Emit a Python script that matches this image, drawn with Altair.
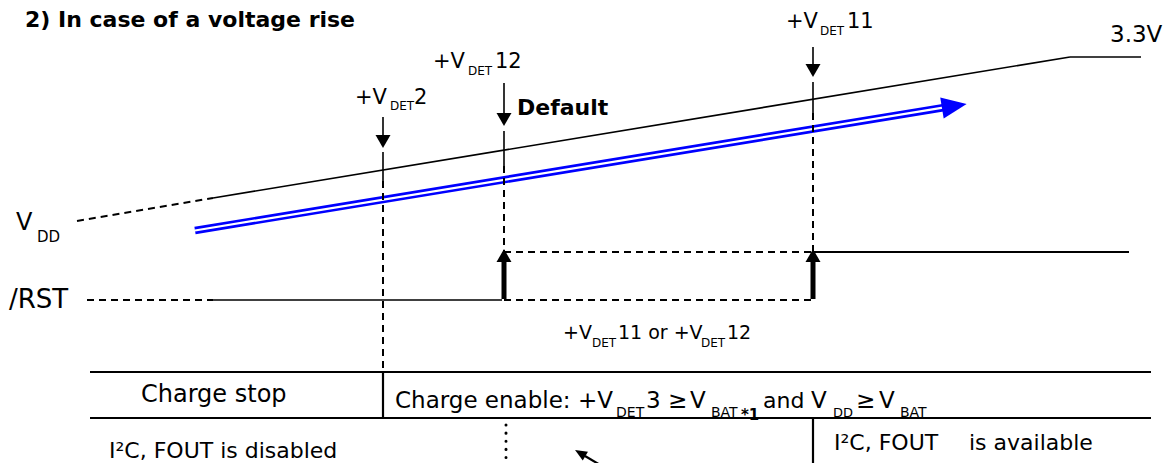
import altair as alt
import pandas as pd

# ---------------- data (diagram units; x = time position, y = level, counted downwards) ----------------
FONT = "DejaVu Sans"

# V_DD trace: dashed lead-in, rising ramp, flat at 3.3 V
vdd_dash = [(77, 221, 213, 198)]
vdd_solid = [(213, 198, 1070, 57), (1070, 57, 1141, 57)]

# /RST trace
rst_low_solid = [(213, 300, 502, 300)]
rst_low_dash = [(87, 300, 213, 300), (504, 300, 813, 300)]
rst_high_dash = [(504, 252, 813, 252)]
rst_high_solid = [(813, 252, 1129, 252)]

# detection thresholds: +VDET2, +VDET12, +VDET11
det_x = [383, 504, 813]
det_tick_top = [152, 131, 82]
det_tick_bot = [181, 166, 113]
det_dash_bot = [370, 251, 251]
det_shaft_top = [117, 83, 47]
det_shaft_bot = [136, 114, 65]
det_head_y = [141.5, 119.5, 70.5]

# /RST release arrows (thick)
rel_x = [504, 813]
rel_shaft = (299, 261)
rel_head_y = 255.5

# blue "voltage rise" double arrow
blue_start = (195, 230.5)
blue_end = (943, 107.7)
blue_head = (954.3, 106.0, 350.7)

# state table
table_rows = [(90, 372, 1151, 372), (90, 418, 1151, 418)]
table_dividers = [(383, 372, 383, 418), (813, 418, 813, 470)]
dotted_line = [(506, 425, 506, 470)]
pointer_shaft = [(585, 456, 607, 469)]
pointer_head = (580.2, 453.1, 210.6)

# text pieces: (text, x, baseline y, font size)
texts_normal = [
    ("+V", 355, 104, 21), ("DET", 390, 110, 12), ("2", 414, 104, 21),
    ("+V", 433, 68, 21), ("DET", 468, 75, 12), ("12", 495, 68, 21),
    ("+V", 786, 28, 21), ("DET", 820, 35, 12), ("11", 847, 28, 21),
    ("3.3V", 1110, 42, 23),
    ("V", 16, 230, 24), ("DD", 37, 242, 15),
    ("/RST", 9, 308, 26),
    ("+V", 563, 339, 19), ("DET", 592, 347, 12), ("11 or +V", 618, 339, 19),
    ("DET", 701, 347, 12), ("12", 727, 339, 19),
    ("Charge stop", 141, 402, 24),
    ("Charge enable:", 395, 408, 23), ("+V", 578, 408, 23), ("DET", 616, 417, 14),
    ("3", 646, 408, 23), ("≥", 668, 408, 23), ("V", 690, 408, 23), ("BAT", 711, 417, 14),
    ("and", 763, 408, 22), ("V", 811, 408, 23), ("DD", 833, 417, 13),
    ("≥", 856, 408, 23), ("V", 879, 408, 23), ("BAT", 900, 417, 14),
    ("I²C, FOUT is disabled", 109, 458, 22),
    ("I²C, FOUT", 834, 450, 22), ("is available", 969, 450, 22),
]
texts_bold = [
    ("2) In case of a voltage rise", 25, 27, 22),
    ("Default", 517, 115, 22),
    ("*1", 741, 420, 15),
]

PATH_NARROW = "M-1,-0.85L1,0L-1,0.85Z"
PATH_WIDE = "M-1,-1.15L1,0L-1,1.15Z"

# ---------------- build tables ----------------
W, H = 1155, 455
xs = alt.Scale(domain=[8, 8 + W], nice=False, zero=False)
ys = alt.Scale(domain=[8, 8 + H], nice=False, zero=False, reverse=True)


def segs(rows):
    return pd.DataFrame(rows, columns=["x", "y", "x2", "y2"])


def rules(rows, **mark):
    return alt.Chart(segs(rows)).mark_rule(**mark).encode(
        x=alt.X("x:Q", scale=xs, axis=None),
        y=alt.Y("y:Q", scale=ys, axis=None),
        x2="x2:Q",
        y2="y2:Q",
    )


thin_rows = vdd_solid + rst_low_solid
thin_rows += [(x, t, x, b) for x, t, b in zip(det_x, det_tick_top, det_tick_bot)]
thin_rows += [(x, t, x, b) for x, t, b in zip(det_x, det_shaft_top, det_shaft_bot)]
dash_rows = vdd_dash + rst_low_dash + rst_high_dash
dash_rows += [(x, t, x, b) for x, t, b in zip(det_x, det_tick_bot, det_dash_bot)]
med_rows = rst_high_solid + table_rows + table_dividers + pointer_shaft
thick_rows = [(x, rel_shaft[0], x, rel_shaft[1]) for x in rel_x]
blue_rows = [(blue_start[0], blue_start[1], blue_end[0], blue_end[1])]

heads = [
    dict(x=blue_head[0], y=blue_head[1], angle=blue_head[2], shape=PATH_NARROW, size=625, color="#0000ff"),
    dict(x=pointer_head[0], y=pointer_head[1], angle=pointer_head[2], shape=PATH_NARROW, size=144, color="black"),
]
for x, y in zip(det_x, det_head_y):
    heads.append(dict(x=x, y=y, angle=90, shape=PATH_WIDE, size=169, color="black"))
for x in rel_x:
    heads.append(dict(x=x, y=rel_head_y, angle=270, shape=PATH_WIDE, size=169, color="black"))
heads_df = pd.DataFrame(heads)

head_layer = alt.Chart(heads_df).mark_point(filled=True, opacity=1, strokeWidth=0).encode(
    x=alt.X("x:Q", scale=xs, axis=None),
    y=alt.Y("y:Q", scale=ys, axis=None),
    angle=alt.Angle("angle:Q", scale=None),
    shape=alt.Shape("shape:N", scale=None),
    size=alt.Size("size:Q", scale=None),
    color=alt.Color("color:N", scale=None),
)


def text_layer(rows, weight):
    df = pd.DataFrame(rows, columns=["text", "x", "y", "size"])
    return alt.Chart(df).mark_text(
        align="left", baseline="alphabetic", font=FONT, fontWeight=weight, color="black"
    ).encode(
        x=alt.X("x:Q", scale=xs, axis=None),
        y=alt.Y("y:Q", scale=ys, axis=None),
        text="text:N",
        size=alt.Size("size:Q", scale=None),
    )


chart = alt.layer(
    rules(blue_rows, color="#0000ff", strokeWidth=7.5),
    rules(blue_rows, color="white", strokeWidth=2.2),
    rules(thin_rows, color="black", strokeWidth=1.6),
    rules(med_rows, color="black", strokeWidth=2.2),
    rules(dash_rows, color="black", strokeWidth=2, strokeDash=[7, 5]),
    rules(thick_rows, color="black", strokeWidth=5),
    rules(dotted_line, color="black", strokeWidth=3, strokeDash=[0.1, 8], strokeCap="round"),
    head_layer,
    text_layer(texts_normal, "normal"),
    text_layer(texts_bold, "bold"),
).properties(
    width=W,
    height=H,
    autosize=alt.AutoSizeParams(type="none"),
    padding=0,
    background="white",
).configure_view(stroke=None)

chart.save("out.html", embed_options={"renderer": "svg", "actions": False})
